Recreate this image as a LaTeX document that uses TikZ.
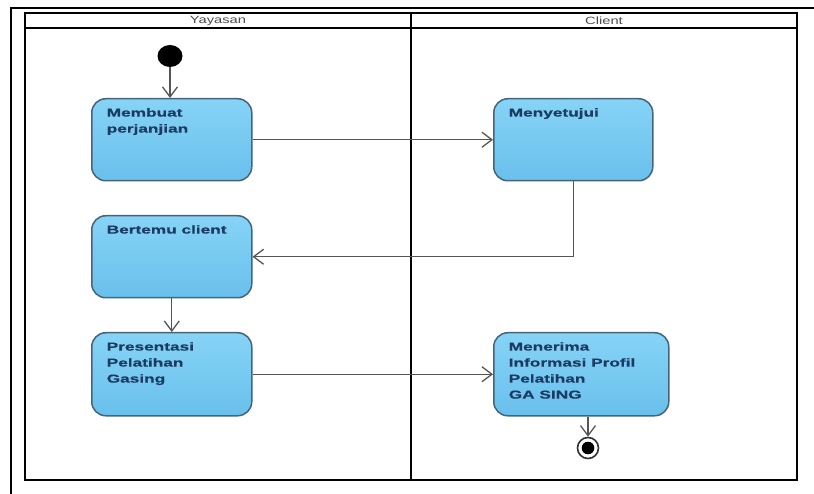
\documentclass[tikz,border=0pt]{standalone}
\usepackage{fontspec}
\usetikzlibrary{arrows.meta,shapes.geometric}
\newfontfamily\actfont[FakeStretch=1.5,FakeBold=0.6]{Liberation Sans}
\newfontfamily\lanefont[FakeStretch=1.4]{Liberation Sans}
\definecolor{boxtop}{HTML}{86D3F6}
\definecolor{boxbot}{HTML}{69C0EC}
\definecolor{boxline}{HTML}{45647A}
\definecolor{boxtext}{HTML}{1C3A62}
\definecolor{edgegray}{HTML}{555555}
\tikzset{
  actbox/.style={draw=boxline, line width=1.5pt, rounded corners=14pt,
    top color=boxtop, bottom color=boxbot, anchor=north west,
    inner xsep=15pt, inner ysep=9.5pt, text=boxtext,
    font=\actfont\bfseries\fontsize{11.5}{16}\selectfont},
  arr/.style={draw=edgegray, line width=1.3pt,
    -{Straight Barb[length=10pt,width=15pt,line width=1.3pt]}},
  lanelabel/.style={text=black!70, font=\lanefont\fontsize{10.5}{12}\selectfont, inner sep=0pt},
  startnode/.style={ellipse, fill=black, minimum width=25pt, minimum height=22pt, inner sep=0pt},
  endnode/.style={circle, draw=black!80, line width=1.6pt, fill=white, minimum size=21pt, inner sep=0pt,
    path picture={\fill[black] (path picture bounding box.center) circle (6.3pt);}},
  frameline/.style={draw=black, line width=1.8pt}
}
\newcommand{\acttxt}[3]{\parbox[t][#1][t]{#2}{#3}}
\begin{document}
\begin{tikzpicture}[x=1pt,y=-1pt]
\useasboundingbox (0,0) rectangle (814,494);
% outer partial frame
\draw[black, line width=1.3pt] (11,494) -- (11,8) -- (814,8);
% swimlane frame
\draw[frameline] (25,13) rectangle (797,480);
\draw[black, line width=1.3pt] (25,28) -- (797,28);
\draw[frameline] (411,13) -- (411,480);
\node[lanelabel] (lane1) at (218,20.5) {Yayasan};
\node[lanelabel] (lane2) at (604,20.5) {Client};
% nodes
\node[startnode] (start) at (170,56) {};
\node[actbox] (a1) at (91,98) {\acttxt{63pt}{130pt}{Membuat\\perjanjian}};
\node[actbox] (a2) at (493,98) {\acttxt{63pt}{129pt}{Menyetujui}};
\node[actbox] (a3) at (91,215) {\acttxt{63pt}{130pt}{Bertemu client}};
\node[actbox] (a4) at (91,332) {\acttxt{64pt}{130pt}{Presentasi\\Pelatihan\\Gasing}};
\node[actbox] (a5) at (493,332) {\acttxt{64pt}{145pt}{Menerima\\Informasi Profil\\Pelatihan\\GA SING}};
\node[endnode] (end) at (588,448) {};
% edges
\draw[arr] (start) -- (start |- a1.north);
\draw[arr] (a1.east) -- (a2.west);
\draw[arr] (a2.south) |- (a3.east);
\draw[arr] (a3.south) -- (a4.north);
\draw[arr] (a4.east) -- (a5.west);
\draw[arr] (a5.south -| end) -- (end.north);
\end{tikzpicture}
\end{document}
